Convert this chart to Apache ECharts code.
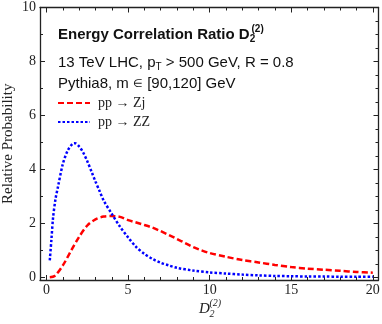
<!DOCTYPE html>
<html>
<head>
<meta charset="utf-8">
<script src="https://cdn.jsdelivr.net/npm/echarts@6/dist/echarts.min.js"></script>
<style>
  html, body { margin: 0; padding: 0; background: #fff; }
  #chart { width: 382px; height: 324px; }
</style>
</head>
<body>
<div id="chart"></div>
<script>
// pp -> Zj (red dashed)
const zjX = [0.2, 0.5, 1.0, 1.5, 2.0, 2.5, 3.0, 3.5, 4.0, 4.5, 5.0, 5.5, 6.0, 6.5, 7.0, 7.5, 8.0, 8.5, 9.0, 9.5, 10, 11, 12, 13, 14, 15, 16, 17, 18, 19, 20]
const zjY = [0.0, 0.05, 0.44, 0.98, 1.5, 1.92, 2.15, 2.25, 2.27, 2.24, 2.12, 2.03, 1.94, 1.84, 1.71, 1.57, 1.42, 1.27, 1.12, 1.0, 0.9, 0.76, 0.64, 0.55, 0.46, 0.38, 0.32, 0.28, 0.24, 0.2, 0.17]

// pp -> ZZ (blue dotted)
const zzX = [0.2, 0.3, 0.4, 0.55, 0.7, 1.0, 1.3, 1.6, 1.75, 2.0, 2.25, 2.5, 2.75, 3.0, 3.25, 3.5, 4.0, 4.5, 5.0, 5.5, 6.0, 6.5, 7.0, 7.5, 8.0, 9.0, 10, 11, 12, 13, 14, 15, 16, 17, 18, 19, 20]
const zzY = [0.63, 1.4, 2.2, 2.9, 3.35, 4.2, 4.7, 4.95, 4.97, 4.85, 4.62, 4.3, 3.93, 3.55, 3.2, 2.85, 2.35, 1.88, 1.48, 1.12, 0.87, 0.68, 0.54, 0.44, 0.35, 0.25, 0.18, 0.14, 0.1, 0.07, 0.05, 0.04, 0.03, 0.03, 0.02, 0.02, 0.02]

const seriesNames = ['pp → Zj', 'pp → ZZ']

// tick positions
const xMajorTicks = [0, 5, 10, 15, 20]
const xMinorTicks = [0, 1, 2, 3, 4, 5, 6, 7, 8, 9, 10, 11, 12, 13, 14, 15, 16, 17, 18, 19, 20]
const yMajorTicks = [0, 2, 4, 6, 8, 10]
const yMinorTicksLeft = [0, 1, 2, 3, 4, 5, 6, 7, 8, 9, 10]
const yMinorTicksRight = [0, 0.5, 1, 1.5, 2, 2.5, 3, 3.5, 4, 4.5, 5, 5.5, 6, 6.5, 7, 7.5, 8, 8.5, 9, 9.5, 10]

const frameColor = '#222'
const serif = 'Liberation Serif'
const sans = 'Liberation Sans'

// one axis per tick set, stacked on the same side
const makeAxis = (type, position, ticks, len, showLine, showLabels) => ({
  type: 'value',
  position: position,
  min: type === 'x' ? -0.4 : -0.1,
  max: type === 'x' ? 20.35 : 10,
  axisLine: { show: showLine, onZero: false, lineStyle: { color: frameColor, width: 1.3 } },
  axisTick: { show: true, inside: true, length: len, customValues: ticks, lineStyle: { color: frameColor, width: 1 } },
  axisLabel: {
    show: showLabels,
    customValues: ticks,
    margin: type === 'x' ? 3 : 4,
    fontFamily: serif,
    fontSize: 14,
    color: '#222'
  },
  splitLine: { show: false }
})

const yMain = makeAxis('y', 'left', yMajorTicks, 5, true, true)
yMain.name = 'Relative Probability'
yMain.nameLocation = 'middle'
yMain.nameGap = 24
yMain.nameMoveOverlap = false
yMain.nameTextStyle = { fontFamily: serif, fontSize: 15, color: '#222' }

const chart = echarts.init(document.getElementById('chart'))
chart.setOption({
  animation: false,
  grid: { left: 40, right: 3.5, top: 7.5, bottom: 44, containLabel: false, outerBoundsMode: 'none' },
  xAxis: [
    makeAxis('x', 'bottom', xMajorTicks, 5, true, true),
    makeAxis('x', 'bottom', xMinorTicks, 3, false, false),
    makeAxis('x', 'top', xMajorTicks, 5, true, false),
    makeAxis('x', 'top', xMinorTicks, 3, false, false)
  ],
  yAxis: [
    yMain,
    makeAxis('y', 'left', yMinorTicksLeft, 3, false, false),
    makeAxis('y', 'right', yMajorTicks, 5, true, false),
    makeAxis('y', 'right', yMinorTicksRight, 3, false, false)
  ],
  legend: {
    orient: 'vertical',
    left: 52,
    top: 91,
    itemWidth: 32,
    itemHeight: 12,
    itemGap: 5,
    itemStyle: { opacity: 0 },
    textStyle: { fontFamily: serif, fontSize: 14, color: '#222', padding: [0, 0, 0, 3] },
    data: seriesNames
  },
  series: [
    {
      name: seriesNames[0],
      type: 'line',
      symbol: 'none',
      smooth: 0.3,
      lineStyle: { color: '#ff0000', width: 2.5, type: [6, 3] },
      itemStyle: { color: '#ff0000' },
      data: zjX.map((x, i) => [x, zjY[i]])
    },
    {
      name: seriesNames[1],
      type: 'line',
      symbol: 'none',
      smooth: 0.3,
      lineStyle: { color: '#0000ff', width: 2.5, type: [2.5, 2] },
      itemStyle: { color: '#0000ff' },
      data: zzX.map((x, i) => [x, zzY[i]])
    }
  ],
  graphic: [
    // inset text
    {
      type: 'text', x: 58, y: 35,
      style: {
        text: '{b|Energy Correlation Ratio D}{s|2}',
        verticalAlign: 'middle',
        rich: {
          b: { font: 'bold 15px ' + sans, fill: '#111', lineHeight: 18 },
          s: { font: 'bold 10px ' + sans, fill: '#111', lineHeight: 10, verticalAlign: 'bottom' }
        }
      }
    },
    { type: 'text', x: 251.5, y: 29, style: { text: '(2)', font: 'bold 10px ' + sans, fill: '#111', verticalAlign: 'middle' } },
    {
      type: 'text', x: 58, y: 63,
      style: {
        text: '{a|13 TeV LHC, p}{s|T}{a| > 500 GeV, R = 0.8}',
        verticalAlign: 'middle',
        rich: {
          a: { font: '15px ' + sans, fill: '#111', lineHeight: 18 },
          s: { font: '10px ' + sans, fill: '#111', lineHeight: 10, verticalAlign: 'bottom' }
        }
      }
    },
    {
      type: 'text', x: 58, y: 84,
      style: {
        text: '{a|Pythia8, m }{e|∈}{a| [90,120] GeV}',
        verticalAlign: 'middle',
        rich: {
          a: { font: '15px ' + sans, fill: '#111', lineHeight: 18 },
          e: { font: '11px ' + sans, fill: '#111', lineHeight: 18 }
        }
      }
    },
    // x axis title D_2^(2)
    { type: 'text', x: 199, y: 309, style: { text: 'D', font: 'italic 15px ' + serif, fill: '#222', verticalAlign: 'middle' } },
    { type: 'text', x: 209.5, y: 314, style: { text: '2', font: 'italic 10px ' + serif, fill: '#222', verticalAlign: 'middle' } },
    { type: 'text', x: 209.5, y: 303, style: { text: '(2)', font: 'italic 10px ' + serif, fill: '#222', verticalAlign: 'middle' } }
  ]
})
</script>
</body>
</html>
